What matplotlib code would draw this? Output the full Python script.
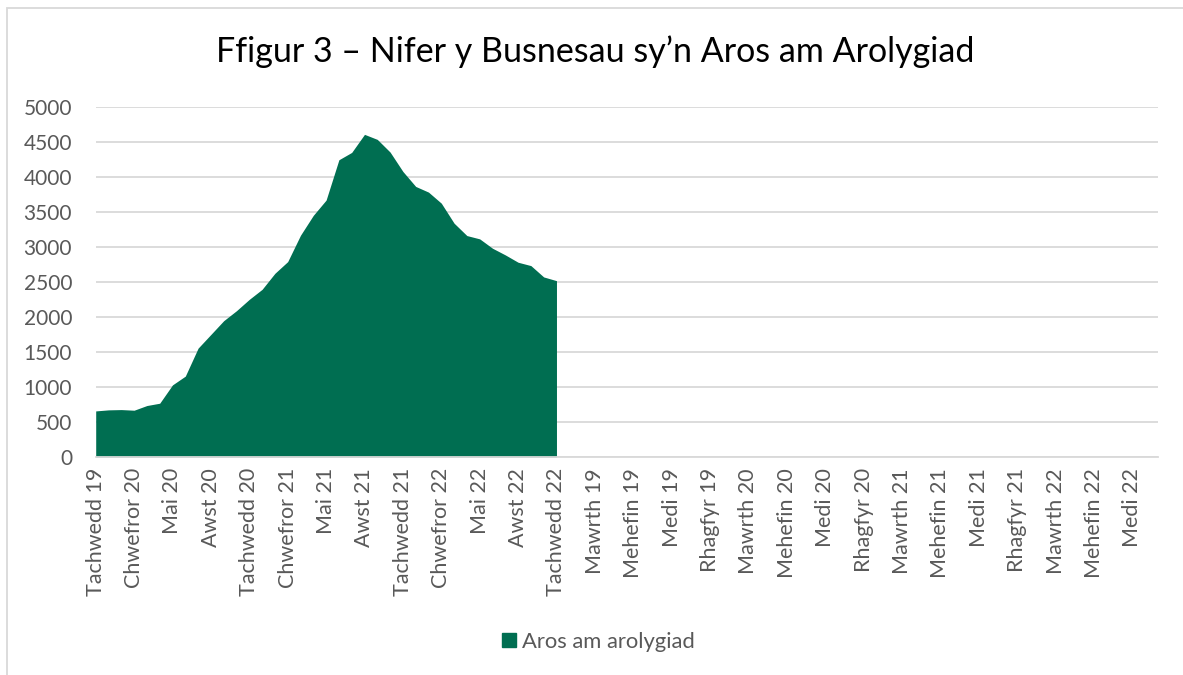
import matplotlib.pyplot as plt
from matplotlib.patches import Rectangle, Patch

# Welsh month names
months = ['Ionawr', 'Chwefror', 'Mawrth', 'Ebrill', 'Mai', 'Mehefin',
          'Gorffennaf', 'Awst', 'Medi', 'Hydref', 'Tachwedd', 'Rhagfyr']

# first block: Tachwedd 19 .. Tachwedd 22 (has data)
# second block: Ionawr 19 .. Tachwedd 22 (empty categories in the source sheet)
cats_data = [f'{months[(10 + i) % 12]} {19 + (10 + i) // 12}' for i in range(37)]
cats_empty = [f'{months[i % 12]} {19 + i // 12}' for i in range(47)]
categories = cats_data + cats_empty

waiting = [658, 673, 677, 668, 735, 768, 1030, 1155, 1555, 1751,
           1947, 2090, 2252, 2395, 2624, 2791, 3168, 3452, 3670, 4246,
           4351, 4609, 4537, 4356, 4079, 3865, 3784, 3626, 3340, 3163,
           3116, 2982, 2887, 2782, 2734, 2572, 2519]

series_name = 'Aros am arolygiad'
title = 'Ffigur 3 – Nifer y Busnesau sy’n Aros am Arolygiad'

plt.rcParams['font.family'] = ['Lato', 'DejaVu Sans']
grey = '#595959'
green = '#006E51'

fig = plt.figure(figsize=(11.83, 6.75), dpi=100)
ax = fig.add_axes([0.0809, 0.3230, 0.8980, 0.5185])

x = list(range(len(waiting)))
ax.fill_between(x, 0, waiting, color=green, linewidth=0)

ax.set_xlim(0, len(categories) - 1)
ax.set_ylim(0, 5000)
ax.set_yticks(range(0, 5001, 500))
ax.set_xticks(range(0, len(categories), 3))
ax.set_xticklabels(categories[::3], rotation=90, fontsize=15.5, color=grey)
ax.tick_params(axis='y', labelsize=15, labelcolor=grey, length=0, pad=17)
ax.tick_params(axis='x', length=0, pad=8)

ax.grid(axis='y', color='#d9d9d9', linewidth=1.3)
ax.set_axisbelow(True)
for s in ['top', 'right', 'left']:
    ax.spines[s].set_visible(False)
ax.spines['bottom'].set_color('#d9d9d9')
ax.spines['bottom'].set_linewidth(1.3)

fig.text(0.503, 0.923, title, ha='center', va='center', fontsize=24.5, color='black')

fig.legend(handles=[Patch(color=green, label=series_name)], loc='center',
           bbox_to_anchor=(0.506, 0.049), frameon=False, fontsize=15.8,
           handlelength=0.6, handleheight=0.6, handletextpad=0.3, labelcolor=grey)

# chart border
fig.patches.append(Rectangle((7 / 1183, -0.1), 1.2, 1 - 8 / 675 + 0.1,
                             transform=fig.transFigure, fill=False,
                             edgecolor='#d9d9d9', linewidth=1.3))

plt.savefig('out.png', dpi=100)
